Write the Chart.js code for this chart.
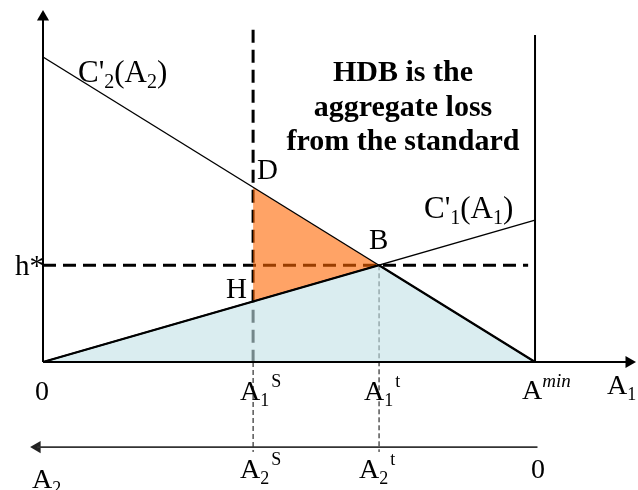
<!DOCTYPE html>
<html><head><meta charset="utf-8">
<style>html,body{margin:0;padding:0;background:#fff;overflow:hidden}#wrap{width:638px;height:490px;position:relative}</style>
<script src="https://cdn.jsdelivr.net/npm/chart.js@4/dist/chart.umd.min.js"></script>
</head><body><div id="wrap"><canvas id="c"></canvas></div>
<script>
// ---- values (abatement A1 on x, marginal cost on y) ----
const A_MIN = 10;          // A^min
const A1_S = 4.27;         // standard A1^S
const A1_T = 6.83;         // A1^t (intersection B)
const H_STAR = 3.17;       // h*
const C2_A = [0, 10];      // C'2(A2) curve, A1 values
const C2_V = [10, 0];      // C'2 values
const C1_A = [0, 10];      // C'1(A1) curve, A1 values
const C1_V = [0, 4.65];    // C'1 values
const D_VAL = 5.73;        // point D on C'2 at A1^S
const H_VAL = 1.99;        // point H on C'1 at A1^S
const Y_AXIS_TOP = 11.31;
const X_AXIS_END = 11.91;
const RIGHT_LINE_TOP = 10.72;
const A2_AXIS_Y = -2.79;
const A2_AXIS_LEFT = -0.12;
const A2_AXIS_RIGHT = 10.05;
const HSTAR_END = 9.86;
const DASH_TOP = 10.89;
const DASH_BOTTOM = -2.95;
const X_RANGE = [-0.874, 12.093];
const Y_RANGE = [-4.197, 11.869];

const FONT = '"Liberation Serif", "Times New Roman", serif';
const P = (xs, ys) => xs.map((x, i) => ({x, y: ys[i]}));
const line = (data, extra) => Object.assign({data, showLine: true, pointRadius: 0, borderColor: '#000', borderWidth: 1.5, fill: false, tension: 0}, extra);

const datasets = [
  line(P(C2_A, C2_V), {borderWidth: 1.4}),
  line(P(C1_A, C1_V), {borderWidth: 1.4}),
  line(P([0, 0], [0, Y_AXIS_TOP]), {borderWidth: 2}),
  line(P([0, X_AXIS_END], [0, 0]), {borderWidth: 2}),
  line(P([A_MIN, A_MIN], [0, RIGHT_LINE_TOP]), {borderWidth: 2}),
  line(P([A2_AXIS_LEFT, A2_AXIS_RIGHT], [A2_AXIS_Y, A2_AXIS_Y]), {borderWidth: 1.6, borderColor: '#333'}),
  {data: P([0, X_AXIS_END, A2_AXIS_LEFT], [Y_AXIS_TOP, 0, A2_AXIS_Y]), showLine: false, pointStyle: 'triangle',
   pointRadius: 7, pointRotation: [0, 90, -90], pointBackgroundColor: ['#000', '#000', '#222'], pointBorderWidth: 0, borderColor: '#000'},
  line(P([0, A1_T, A_MIN, 0], [0, H_STAR, 0, 0]), {borderWidth: 2.2, fill: 'shape', backgroundColor: 'rgba(193,225,230,0.6)'}),
  line(P([A1_S, A1_T, A1_S, A1_S], [D_VAL, H_STAR, H_VAL, D_VAL]), {borderWidth: 0, borderColor: 'rgba(0,0,0,0)', fill: 'shape', backgroundColor: 'rgba(255,102,0,0.6)'}),
  line(P([0, HSTAR_END], [H_STAR, H_STAR]), {borderWidth: 3, borderDash: [13, 7]}),
  line(P([A1_S, A1_S], [DASH_TOP, 0]), {borderWidth: 3, borderDash: [13, 7]}),
  line(P([A1_S, A1_S], [0, DASH_BOTTOM]), {borderWidth: 1, borderDash: [5, 3]}),
  line(P([A1_T, A1_T], [H_STAR, DASH_BOTTOM]), {borderWidth: 1, borderDash: [5, 3]})
];

function rich(ctx, parts, x, y, base) {
  base = base || 28;
  let cx = x;
  for (const [t, k] of parts) {
    let size = base, dy = 0, style = '';
    if (k === 'sub') { size = Math.round(base * 0.65); dy = 6; }
    else if (k === 'sup') { size = 18; dy = -13; cx += 2; }
    else if (k === 'supi') { size = 19; dy = -12; style = 'italic '; }
    ctx.font = style + size + 'px ' + FONT;
    ctx.fillText(t, cx, y + dy);
    cx += ctx.measureText(t).width;
  }
}

const BOLD_NOTE = ['HDB is the', 'aggregate loss', 'from the standard'];

const labels = {
  id: 'labels',
  afterDatasetsDraw(chart) {
    const {ctx, scales: {x, y}} = chart;
    const X = v => x.getPixelForValue(v), Y = v => y.getPixelForValue(v);
    ctx.save();
    ctx.fillStyle = '#000';
    ctx.textBaseline = 'alphabetic';
    const y0 = Y(0), yA2 = Y(A2_AXIS_Y);
    ctx.font = '28px ' + FONT;
    ctx.textAlign = 'center';
    ctx.fillText('0', X(0) - 1, y0 + 38);
    ctx.fillText('0', X(A_MIN) + 3, yA2 + 31);
    ctx.textAlign = 'left';
    rich(ctx, [['A'], ['1', 'sub'], ['S', 'sup']], X(A1_S) - 13, y0 + 38);
    rich(ctx, [['A'], ['1', 'sub'], ['t', 'sup']], X(A1_T) - 15, y0 + 38);
    rich(ctx, [['A'], ['min', 'supi']], X(A_MIN) - 13, y0 + 37);
    rich(ctx, [['A'], ['1', 'sub']], X(A_MIN) + 72, y0 + 32);
    rich(ctx, [['A'], ['2', 'sub'], ['S', 'sup']], X(A1_S) - 13, yA2 + 31);
    rich(ctx, [['A'], ['2', 'sub'], ['t', 'sup']], X(A1_T) - 20, yA2 + 31);
    rich(ctx, [['A'], ['2', 'sub']], X(0) - 11, yA2 + 41);
    ctx.textAlign = 'right';
    ctx.font = '29px ' + FONT;
    ctx.fillText('h*', X(0) + 1, Y(H_STAR) + 10);
    ctx.textAlign = 'left';
    ctx.fillText('H', X(A1_S) - 27, Y(H_VAL) - 3);
    ctx.fillText('D', X(A1_S) + 4, Y(D_VAL) - 8);
    ctx.fillText('B', X(A1_T) - 10, Y(H_STAR) - 16);
    rich(ctx, [['C\''], ['2', 'sub'], ['(A'], ['2', 'sub'], [')']], X(0) + 35, Y(C2_V[0]) + 25, 31);
    rich(ctx, [['C\''], ['1', 'sub'], ['(A'], ['1', 'sub'], [')']], X(A_MIN) - 111, Y(C1_V[1]) - 2, 31);
    ctx.textAlign = 'center';
    ctx.font = 'bold 30px ' + FONT;
    BOLD_NOTE.forEach((t, i) => ctx.fillText(t, 403, 81 + i * 34.5));
    ctx.restore();
  }
};

new Chart(document.getElementById('c'), {
  type: 'scatter',
  data: {datasets},
  options: {
    responsive: true, maintainAspectRatio: false, animation: false, events: [],
    layout: {padding: 0, autoPadding: false},
    plugins: {legend: {display: false}, tooltip: {enabled: false}},
    scales: {
      x: {type: 'linear', min: X_RANGE[0], max: X_RANGE[1], display: false},
      y: {type: 'linear', min: Y_RANGE[0], max: Y_RANGE[1], display: false}
    }
  },
  plugins: [labels]
});
</script></body></html>
